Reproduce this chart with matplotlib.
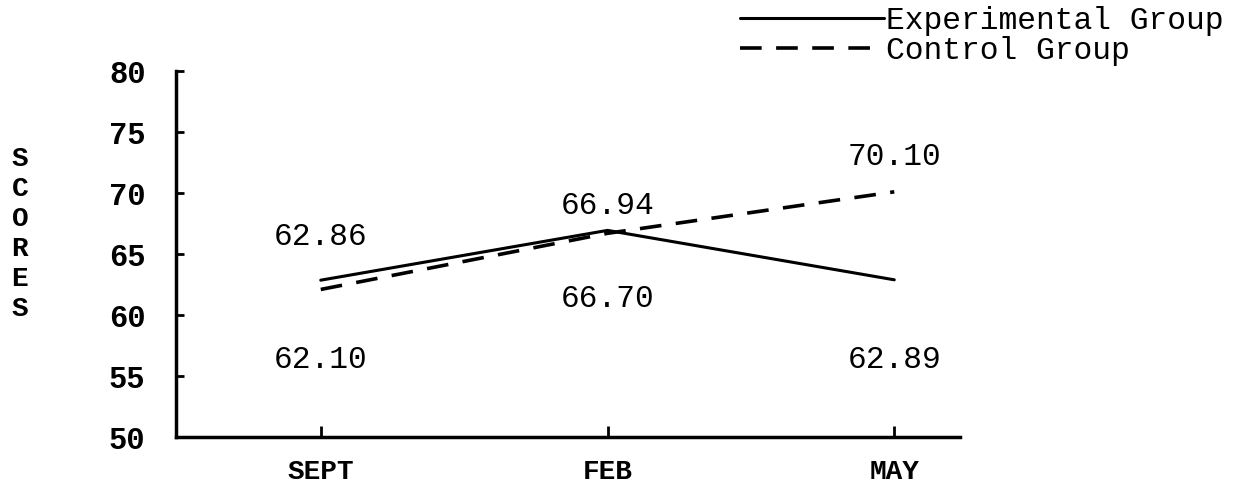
import matplotlib.pyplot as plt

months = ["SEPT", "FEB", "MAY"]
experimental = [62.86, 66.94, 62.89]
control = [62.10, 66.70, 70.10]
exp_label = "Experimental Group"
ctl_label = "Control Group"

# label placement (offset in data units above/below the point)
exp_offsets = [3.5, 2.0, -6.6]
ctl_offsets = [-5.8, -5.4, 2.85]

mono = "Liberation Mono"

fig = plt.figure(figsize=(12.39, 4.83), dpi=100)
ax = fig.add_axes([0.142, 0.095, 0.633, 0.758])

x = range(len(months))
ax.plot(x, experimental, color="black", lw=2.2, solid_capstyle="round", label=exp_label)
ax.plot(x, control, color="black", lw=2.6, dashes=(6, 4), label=ctl_label)

for i, v in enumerate(experimental):
    ax.text(i, v + exp_offsets[i], f"{v:.2f}", ha="center", va="center",
            fontsize=22.5, family=mono)
for i, v in enumerate(control):
    ax.text(i, v + ctl_offsets[i], f"{v:.2f}", ha="center", va="center",
            fontsize=22.5, family=mono)

ax.set_xlim(-0.505, 2.23)
ax.set_ylim(50, 80)
ax.set_yticks([50, 55, 60, 65, 70, 75, 80])
ax.set_xticks(list(x))
ax.set_xticklabels(months)

for side in ["top", "right"]:
    ax.spines[side].set_visible(False)
for side in ["left", "bottom"]:
    ax.spines[side].set_linewidth(2.5)

ax.tick_params(axis="y", direction="in", length=6, width=2, pad=22, labelsize=22)
ax.tick_params(axis="x", direction="in", length=8, width=2, pad=16, labelsize=20)
for lab in ax.get_yticklabels() + ax.get_xticklabels():
    lab.set_family(mono)
    lab.set_fontweight("bold")

fig.text(0.016, 0.515, "S\nC\nO\nR\nE\nS", ha="center", va="center",
         fontsize=20, fontweight="bold", family=mono, linespacing=1.2)

fig.legend(loc="upper right", bbox_to_anchor=(1.01, 1.045), frameon=False,
           handlelength=4.6, handletextpad=0.05, labelspacing=0.0,
           prop={"family": mono, "size": 22.5})

fig.savefig("out.png", dpi=100)
